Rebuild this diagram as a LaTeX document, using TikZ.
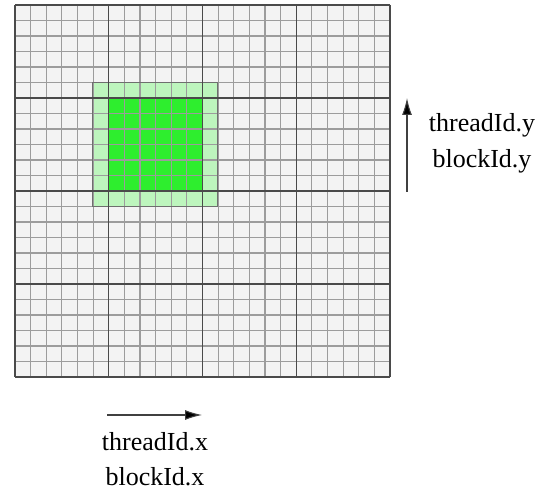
\documentclass[tikz,border=0pt]{standalone}
\usepackage{fontspec}
\setmainfont{Liberation Serif}
\usetikzlibrary{arrows.meta}
\definecolor{cellbg}{HTML}{F3F3F3}
\definecolor{minorline}{HTML}{9C9C9C}
\definecolor{majorline}{HTML}{4A4A4A}
\definecolor{lightgreen}{HTML}{BDF5BD}
\definecolor{brightgreen}{HTML}{2EEE2E}
\tikzset{
  lbl/.style={font=\fontsize{26}{30}\selectfont, anchor=base, inner sep=0pt},
  dirarrow/.style={draw=black!75, line width=1.1pt, -{Latex[length=17pt,width=10pt,fill=black]}},
}
\begin{document}
\begin{tikzpicture}[x=1pt,y=-1pt]
\useasboundingbox (0,0) rectangle (539,492);
% grid area
\fill[cellbg] (15,5) rectangle (390,377);
% green regions
\fill[lightgreen] (92.4,82.5) rectangle (217.3,206.5);
\fill[brightgreen] (108.4,98) rectangle (202,191);
% minor grid
\foreach \i in {0,...,24} {
  \draw[minorline, line width=1.2pt] ({15+\i*15.625},5) -- ({15+\i*15.625},377);
  \draw[minorline, line width=1.2pt] (15,{5+\i*15.5}) -- (390,{5+\i*15.5});
}
% light green box outline
\draw[majorline!80, line width=1.2pt] (92.4,82.5) rectangle (217.3,206.5);
% major grid
\foreach \i in {0,...,4} {
  \draw[majorline, line width=1.4pt] ({15+\i*93.75},5) -- ({15+\i*93.75},377);
  \draw[majorline, line width=1.4pt] (15,{5+\i*93}) -- (390,{5+\i*93});
}
% arrows
\coordinate (ystart) at (407,192);
\coordinate (yend) at (407,98);
\draw[dirarrow] (ystart) -- (yend);
\coordinate (xstart) at (107,415);
\coordinate (xend) at (202,415);
\draw[dirarrow] (xstart) -- (xend);
% labels
\node[lbl] (ty) at (482,132) {threadId.y};
\node[lbl] (by) at (482,168) {blockId.y};
\node[lbl] (tx) at (155,450) {threadId.x};
\node[lbl] (bx) at (155,485) {blockId.x};
\end{tikzpicture}
\end{document}
